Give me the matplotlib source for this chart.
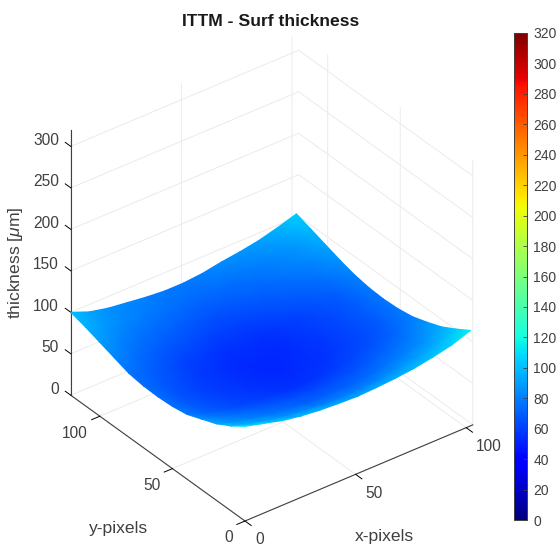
import numpy as np
import matplotlib
matplotlib.use("Agg")
import matplotlib.pyplot as plt
from matplotlib.collections import QuadMesh
from matplotlib.colors import Normalize
from matplotlib.cm import ScalarMappable
from mpl_toolkits.mplot3d import proj3d

##### DATA #####
x_nodes = [0, 8.5, 17, 25.5, 34, 42.5, 51, 59.5, 68, 76.5, 85, 93.5, 102]
y_nodes = [0, 10, 20, 30, 40, 50, 60, 70, 80, 90, 100, 110, 120]
# thickness, one row per y_node
thick = [
    [114, 108, 102, 98, 95.5, 94, 93, 94, 95.5, 98, 102, 107, 115],
    [102, 95, 90, 86, 83.5, 81, 80, 81, 83, 86.5, 90.5, 95.5, 104],
    [92, 85, 80, 76, 73.5, 71, 70, 71, 73, 76.5, 80.5, 85.5, 94],
    [85, 78, 73, 69, 66.5, 64, 63, 64, 66, 69.5, 73.5, 78.5, 87],
    [78, 71, 66, 62, 59.5, 57, 56, 57, 59, 62.5, 66.5, 71.5, 81],
    [75, 68, 63, 59, 56.5, 54, 53, 54, 56, 59.5, 63.5, 68.5, 78],
    [74, 67, 62, 58, 55.5, 53, 52, 53, 55, 58.5, 62.5, 67.5, 77],
    [74.5, 67.5, 62.5, 58.5, 56, 53.5, 52.5, 53.5, 55.5, 59, 63, 68, 78],
    [77, 70, 65, 61, 58.5, 56, 55, 56, 58, 61.5, 65.5, 70.5, 81],
    [83, 76, 71, 67, 64.5, 62, 61, 62, 64, 67.5, 71.5, 76.5, 86],
    [89, 82, 77, 73, 70.5, 68, 67, 68, 70, 73.5, 77.5, 82.5, 92],
    [95, 88, 83, 79, 76.5, 74, 73, 74, 76, 79.5, 83.5, 88.5, 98],
    [100, 91, 86, 83, 80, 78, 78, 80, 84, 87, 91, 97, 104],
]
xy_ticks = [0, 50, 100]
z_ticks = [0, 50, 100, 150, 200, 250, 300]
cbar_ticks = list(range(0, 321, 20))

W, H = 558, 547
DARK = "#404040"
plt.rcParams["font.family"] = ["Liberation Sans", "DejaVu Sans"]
plt.rcParams["mathtext.fontset"] = "custom"
plt.rcParams["mathtext.rm"] = "Liberation Sans"
plt.rcParams["mathtext.it"] = "Liberation Sans:italic"
plt.rcParams["grid.color"] = "#ebebeb"
plt.rcParams["grid.linewidth"] = 0.7

fig = plt.figure(figsize=(W / 100, H / 100), dpi=100)
side = 300
ax = fig.add_axes([0.1, 0.1, side / W, side / H], projection="3d", proj_type="ortho")
ax.view_init(elev=33.5, azim=-127.4)
ax.set_xlim(0, 103, view_margin=0)
ax.set_ylim(0, 120, view_margin=0)
ax.set_zlim(0, 320, view_margin=0)
ax.set_box_aspect((1, 1, 1.11))
ax.set_xticks(xy_ticks)
ax.set_yticks(xy_ticks)
ax.set_zticks(z_ticks)
ax.set_xticklabels([])
ax.set_yticklabels([])
ax.set_zticklabels([])

for axis in (ax.xaxis, ax.yaxis, ax.zaxis):
    axis.pane.set_facecolor("white")
    axis.pane.set_edgecolor("none")
    axis.line.set_color(DARK)
    axis.line.set_linewidth(0.8)
    axis._axinfo["tick"]["linewidth"] = {True: 0.7, False: 0.7}
    axis._axinfo["tick"]["color"] = DARK

# ticks stick out of the box, on this view that means "inward" for x and y
for axis in (ax.xaxis, ax.yaxis):
    axis._axinfo["tick"]["inward_factor"] = 0.45
    axis._axinfo["tick"]["outward_factor"] = 0.0
ax.zaxis._axinfo["tick"]["inward_factor"] = 0.0
ax.zaxis._axinfo["tick"]["outward_factor"] = 0.4
ax.zaxis._get_tickdir = lambda position: 1  # z ticks along y, like MATLAB

# put the axes where the box corners sit in the reference
M = ax.get_proj()


def project(px, py, pz):
    a, b, _ = proj3d.proj_transform(px, py, pz, M)
    return a, b


def frac(px, py, pz):
    return ax.transAxes.inverted().transform(ax.transData.transform(project(px, py, pz)))


f0 = frac(0, 0, 0)
f_x = frac(103, 0, 0)
f_y = frac(0, 120, 0)
size = (472 - 70) / (f_x[0] - f_y[0])
left = 245 - size * f0[0]
bottom = (H - 521) - size * f0[1]
ax.set_position([left / W, bottom / H, size / W, size / H])


def tick_label(value, pos, dx, dy, ha):
    # offsets are in pixels, annotate wants points
    ax.annotate(str(value), xy=project(*pos), xycoords="data",
                xytext=(dx * 0.72, dy * 0.72), textcoords="offset points",
                ha=ha, va="center", fontsize=11.2, color=DARK, annotation_clip=False)


for v in z_ticks:
    tick_label(v, (0, 120, v), -12, 6, "right")
for v in xy_ticks:
    tick_label(v, (0, v, 0), -12, -17, "right")
    tick_label(v, (v, 0, 0), 10, -19, "left")

# smooth surface over the projected nodes (MATLAB "shading interp")
X, Y = np.meshgrid(x_nodes, y_nodes)
Z = np.array(thick, dtype=float)
sx, sy, _ = proj3d.proj_transform(X.ravel(), Y.ravel(), Z.ravel(), M)
coords = np.stack([np.reshape(sx, X.shape), np.reshape(sy, X.shape)], axis=-1)
norm = Normalize(0, 320)
mesh = QuadMesh(coords, shading="gouraud", cmap="jet", norm=norm,
                transform=ax.transData, zorder=5)
mesh.set_array(Z.ravel())
fig.add_artist(mesh)

# colorbar
cax = fig.add_axes([514 / W, (H - 520) / H, 13 / W, 487 / H])
cb = fig.colorbar(ScalarMappable(norm=norm, cmap="jet"), cax=cax, ticks=cbar_ticks)
cb.ax.tick_params(labelsize=10, colors=DARK, direction="in", length=3, width=0.6, pad=4.5)
cb.outline.set_edgecolor(DARK)
cb.outline.set_linewidth(0.7)

fig.text(271 / W, 1 - 21 / H, "ITTM - Surf thickness", ha="center", va="center",
         fontsize=12.6, fontweight="bold", color="#1a1a1a")
fig.text(16 / W, 1 - 263 / H, "thickness [$\\mu$m]", rotation=90, ha="center", va="center",
         fontsize=12.6, color=DARK)
fig.text(118 / W, 1 - 529 / H, "y-pixels", ha="center", va="center", fontsize=12.6, color=DARK)
fig.text(384 / W, 1 - 537 / H, "x-pixels", ha="center", va="center", fontsize=12.6, color=DARK)

fig.savefig("out.png", dpi=100)
